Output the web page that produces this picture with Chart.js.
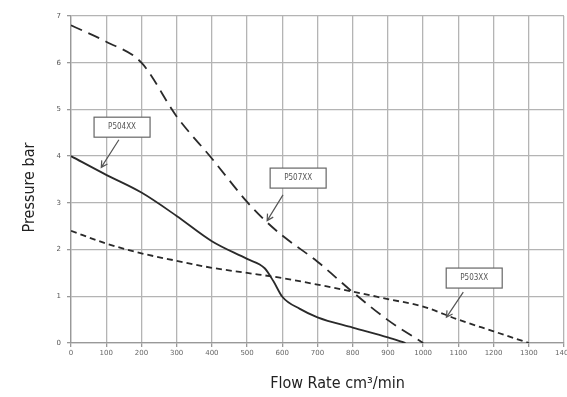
<!DOCTYPE html>
<html>
<head>
<meta charset="utf-8">
<script src="https://cdn.jsdelivr.net/npm/chart.js@4.4.1/dist/chart.umd.min.js"></script>
<style>
  html, body { margin: 0; padding: 0; background: #fff; overflow: hidden; }
  #wrap { width: 567px; height: 397px; }
</style>
</head>
<body>
<div id="wrap"><canvas id="myChart" width="567" height="397"></canvas></div>
<script>
// flow rate (cm3/min) and pressure (bar)
var p507Flow = [0, 100, 200, 300, 400, 500, 550, 600, 700, 800, 900, 1000];
var p507Bar  = [6.8, 6.45, 6.0, 4.85, 3.95, 3.02, 2.63, 2.3, 1.74, 1.09, 0.49, 0];
var p504Flow = [0, 100, 200, 300, 400, 500, 550, 575, 600, 650, 700, 800, 900, 950];
var p504Bar  = [4.0, 3.6, 3.22, 2.72, 2.18, 1.8, 1.6, 1.32, 0.99, 0.73, 0.55, 0.33, 0.12, 0];
var p503Flow = [0, 100, 200, 300, 400, 500, 600, 700, 800, 900, 1000, 1100, 1200, 1300];
var p503Bar  = [2.4, 2.13, 1.92, 1.76, 1.61, 1.5, 1.39, 1.25, 1.1, 0.94, 0.78, 0.5, 0.25, 0];
var xTicks = [0, 100, 200, 300, 400, 500, 600, 700, 800, 900, 1000, 1100, 1200, 1300, 1400];
var yTicks = [0, 1, 2, 3, 4, 5, 6, 7];

var xTitle = 'Flow Rate cm³/min';
var yTitle = 'Pressure bar';
var titleFont = '16px "DejaVu Sans", sans-serif';

// callout labels: text, box centre and arrow (in data units)
var callouts = [
  { text: 'P504XX', bx: 145, by: 4.62, fx: 136, fy: 4.35, tx: 86, ty: 3.76 },
  { text: 'P507XX', bx: 645, by: 3.53, fx: 602, fy: 3.17, tx: 557, ty: 2.62 },
  { text: 'P503XX', bx: 1145, by: 1.39, fx: 1114, fy: 1.09, tx: 1066, ty: 0.55 }
];

function pts(xs, ys) {
  return xs.map(function (x, i) { return { x: x, y: ys[i] }; });
}

var calloutPlugin = {
  id: 'callouts',
  afterDatasetsDraw: function (chart) {
    var ctx = chart.ctx, xs = chart.scales.x, ys = chart.scales.y;
    ctx.save();
    callouts.forEach(function (c) {
      var cx = xs.getPixelForValue(c.bx), cy = ys.getPixelForValue(c.by);
      ctx.font = '8px "DejaVu Sans", sans-serif';
      ctx.fontStretch = 'condensed';
      var w = 56, h = 20;
      ctx.fillStyle = '#fff';
      ctx.fillRect(cx - w / 2, cy - h / 2, w, h);
      ctx.strokeStyle = '#666';
      ctx.lineWidth = 1.2;
      ctx.strokeRect(cx - w / 2, cy - h / 2, w, h);
      ctx.fillStyle = '#555';
      ctx.textAlign = 'center';
      ctx.textBaseline = 'middle';
      ctx.fillText(c.text, cx, cy);
      var x1 = xs.getPixelForValue(c.fx), y1 = ys.getPixelForValue(c.fy);
      var x2 = xs.getPixelForValue(c.tx), y2 = ys.getPixelForValue(c.ty);
      ctx.strokeStyle = '#555';
      ctx.beginPath();
      ctx.moveTo(x1, y1);
      ctx.lineTo(x2, y2);
      var a = Math.atan2(y2 - y1, x2 - x1);
      ctx.moveTo(x2 - 7 * Math.cos(a - 0.5), y2 - 7 * Math.sin(a - 0.5));
      ctx.lineTo(x2, y2);
      ctx.lineTo(x2 - 7 * Math.cos(a + 0.5), y2 - 7 * Math.sin(a + 0.5));
      ctx.stroke();
    });
    ctx.restore();
  },
  // axis titles sit a bit off-centre in the original, so draw them here
  afterDraw: function (chart) {
    var ctx = chart.ctx, area = chart.chartArea;
    ctx.save();
    ctx.font = titleFont;
    ctx.fontStretch = 'condensed';
    ctx.fillStyle = '#222';
    ctx.textAlign = 'center';
    ctx.textBaseline = 'middle';
    ctx.fillText(xTitle, (area.left + area.right) / 2 + 20, 384);
    ctx.translate(30, (area.top + area.bottom) / 2 + 8);
    ctx.rotate(-Math.PI / 2);
    ctx.fillText(yTitle, 0, 0);
    ctx.restore();
  }
};

var ctx = document.getElementById('myChart').getContext('2d');
var myChart = new Chart(ctx, {
  type: 'line',
  data: {
    datasets: [
      { label: 'P507XX', data: pts(p507Flow, p507Bar), borderColor: '#2a2a2a', borderWidth: 1.8,
        borderDash: [12, 7], pointRadius: 0, cubicInterpolationMode: 'monotone' },
      { label: 'P504XX', data: pts(p504Flow, p504Bar), borderColor: '#2a2a2a', borderWidth: 1.8,
        pointRadius: 0, cubicInterpolationMode: 'monotone' },
      { label: 'P503XX', data: pts(p503Flow, p503Bar), borderColor: '#2a2a2a', borderWidth: 1.8,
        borderDash: [6, 4], pointRadius: 0, cubicInterpolationMode: 'monotone' }
    ]
  },
  options: {
    responsive: false,
    animation: false,
    layout: { padding: { left: 20, top: 16, right: 3, bottom: 0 } },
    plugins: { legend: { display: false }, tooltip: { enabled: false } },
    scales: {
      x: {
        type: 'linear', min: 0, max: 1400,
        afterBuildTicks: function (s) { s.ticks = xTicks.map(function (v) { return { value: v }; }); },
        afterFit: function (s) { s.height = 54; s.paddingLeft = 0; s.paddingRight = 0; },
        grid: { color: '#b4b4b4', lineWidth: 1.3, tickLength: 4, tickColor: '#999' },
        border: { color: '#999', width: 1.3 },
        ticks: { color: '#666', font: { size: 7, family: 'DejaVu Sans' }, maxRotation: 0, padding: 2,
          callback: function (v) { return String(v); } }
      },
      y: {
        min: 0, max: 7,
        afterBuildTicks: function (s) { s.ticks = yTicks.map(function (v) { return { value: v }; }); },
        afterFit: function (s) { s.width = 51; s.paddingTop = 0; s.paddingBottom = 0; },
        grid: { color: '#b4b4b4', lineWidth: 1.3, tickLength: 4, tickColor: '#999' },
        border: { color: '#999', width: 1.3 },
        ticks: { color: '#555', font: { size: 7, family: 'DejaVu Sans' }, padding: 6,
          callback: function (v) { return String(v); } }
      }
    }
  },
  plugins: [calloutPlugin]
});
</script>
</body>
</html>
